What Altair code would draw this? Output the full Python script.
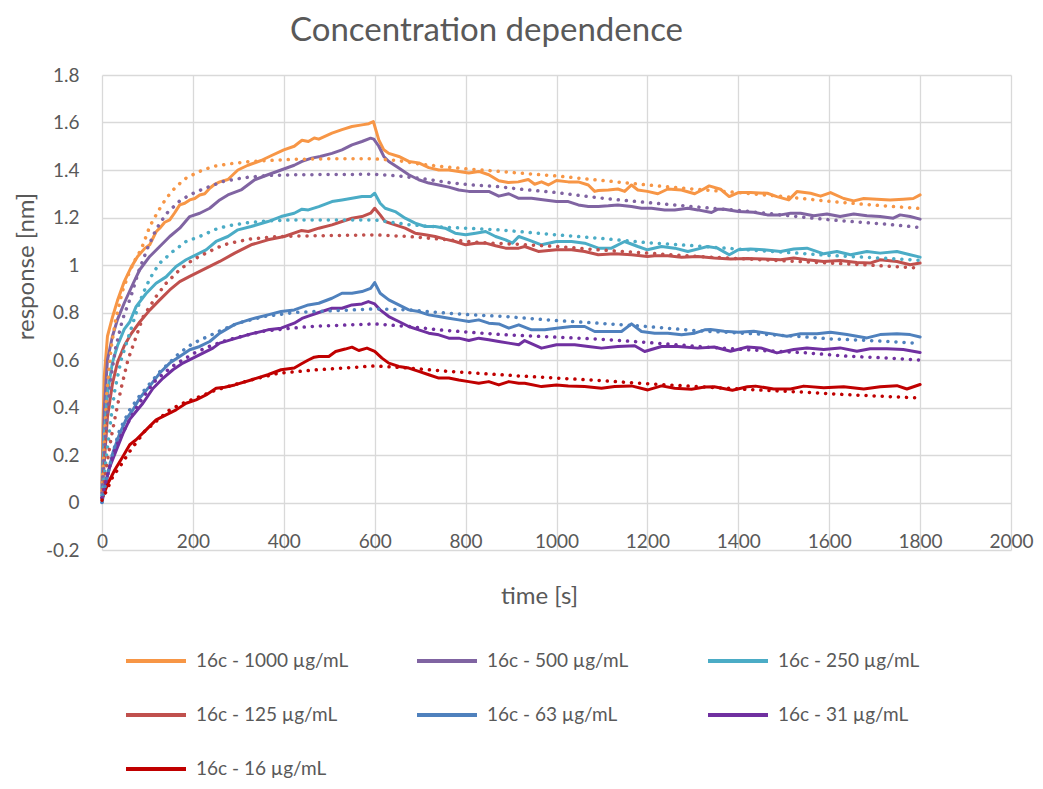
import altair as alt
import pandas as pd

# ---------------- data ----------------
series_names = ["16c - 1000 µg/mL", "16c - 500 µg/mL", "16c - 250 µg/mL",
                "16c - 125 µg/mL", "16c - 63 µg/mL", "16c - 31 µg/mL", "16c - 16 µg/mL"]
series_colors = ["#F79646", "#8064A2", "#4BACC6", "#C0504D", "#4F81BD", "#7030A0", "#C00000"]

x_ticks = [0, 200, 400, 600, 800, 1000, 1200, 1400, 1600, 1800, 2000]
y_ticks = [-0.2, 0.0, 0.2, 0.4, 0.6, 0.8, 1.0, 1.2, 1.4, 1.6, 1.8]

# measured responses (time [s], response [nm])
meas_1000 = [(0,0.08),(2,0.32),(5,0.53),(12,0.70),(23,0.78),(34,0.85),(49,0.93),(64,0.99),(78,1.035),(94,1.07),
    (105,1.085),(119,1.14),(127,1.155),(138,1.18),(149,1.19),(160,1.22),(171,1.253),(182,1.26),(193,1.274),(204,1.28),
    (215,1.295),(226,1.30),(237,1.323),(248,1.34),(259,1.35),(277,1.36),(299,1.40),(321,1.42),(350,1.44),(372,1.46),
    (400,1.485),(423,1.50),(440,1.525),(454,1.52),(467,1.535),(477,1.53),(506,1.555),(528,1.57),(550,1.583),(572,1.59),
    (587,1.595),(597,1.604),(609,1.527),(620,1.485),(631,1.47),(653,1.457),(675,1.436),(697,1.43),(719,1.41),(741,1.40),
    (763,1.40),(785,1.394),(807,1.387),(829,1.394),(851,1.38),(873,1.355),(894,1.347),(916,1.35),(938,1.36),(952,1.34),
    (967,1.35),(982,1.337),(1000,1.356),(1026,1.35),(1048,1.35),(1070,1.337),(1084,1.31),(1092,1.314),(1114,1.316),
    (1135,1.32),(1150,1.31),(1165,1.337),(1179,1.316),(1200,1.31),(1223,1.30),(1245,1.32),(1275,1.316),(1304,1.30),
    (1320,1.316),(1336,1.333),(1361,1.319),(1380,1.288),(1400,1.305),(1427,1.305),(1464,1.302),(1485,1.288),(1511,1.274),
    (1529,1.309),(1559,1.302),(1581,1.29),(1603,1.305),(1632,1.28),(1654,1.27),(1676,1.28),(1705,1.277),(1734,1.274),
    (1763,1.277),(1785,1.28),(1800,1.295)]
meas_500 = [(0,0.06),(3,0.25),(5,0.39),(12,0.60),(23,0.70),(34,0.77),(49,0.84),(68,0.92),(83,0.98),(105,1.036),
    (127,1.078),(149,1.12),(171,1.155),(193,1.204),(215,1.218),(237,1.239),(259,1.274),(277,1.295),(306,1.316),(336,1.359),
    (365,1.38),(394,1.40),(423,1.42),(440,1.436),(461,1.45),(480,1.457),(506,1.47),(528,1.485),(550,1.506),(572,1.52),
    (591,1.534),(598,1.53),(609,1.50),(620,1.457),(631,1.436),(653,1.408),(675,1.38),(697,1.359),(719,1.345),(741,1.337),
    (763,1.328),(785,1.316),(807,1.31),(829,1.31),(851,1.31),(873,1.29),(895,1.30),(917,1.281),(945,1.281),(974,1.274),
    (1000,1.267),(1026,1.267),(1048,1.253),(1070,1.246),(1092,1.246),(1114,1.249),(1135,1.253),(1165,1.246),(1187,1.239),
    (1209,1.239),(1238,1.232),(1260,1.232),(1289,1.239),(1311,1.232),(1341,1.221),(1355,1.235),(1369,1.235),(1400,1.225),
    (1434,1.222),(1464,1.211),(1493,1.211),(1515,1.218),(1537,1.218),(1566,1.207),(1595,1.215),(1624,1.204),(1654,1.215),
    (1683,1.207),(1712,1.204),(1741,1.197),(1756,1.211),(1778,1.204),(1800,1.193)]
meas_250 = [(0,0.05),(3,0.18),(5,0.28),(12,0.46),(23,0.59),(34,0.66),(49,0.73),(61,0.76),(75,0.825),(97,0.88),
    (119,0.923),(141,0.95),(163,0.994),(185,1.022),(207,1.043),(229,1.064),(251,1.099),(277,1.12),(299,1.148),(328,1.162),
    (365,1.183),(394,1.204),(423,1.218),(440,1.235),(454,1.232),(477,1.246),(506,1.267),(528,1.274),(550,1.281),(572,1.288),
    (591,1.288),(600,1.302),(612,1.26),(623,1.239),(645,1.225),(667,1.197),(689,1.176),(711,1.162),(733,1.162),(755,1.155),
    (777,1.134),(800,1.127),(822,1.134),(844,1.141),(866,1.12),(888,1.106),(903,1.092),(917,1.12),(938,1.106),(967,1.085),
    (1000,1.099),(1033,1.099),(1062,1.092),(1092,1.071),(1121,1.071),(1150,1.099),(1179,1.078),(1200,1.064),(1231,1.078),
    (1260,1.071),(1289,1.057),(1319,1.071),(1332,1.078),(1354,1.071),(1380,1.043),(1400,1.064),(1427,1.067),(1456,1.064),
    (1493,1.057),(1522,1.067),(1551,1.071),(1588,1.047),(1617,1.057),(1647,1.043),(1683,1.057),(1712,1.05),(1749,1.057),
    (1778,1.043),(1800,1.033)]
meas_125 = [(0,0.04),(3,0.12),(5,0.17),(12,0.36),(23,0.50),(34,0.59),(49,0.66),(64,0.71),(83,0.76),(105,0.81),
    (127,0.853),(149,0.895),(171,0.93),(193,0.952),(215,0.973),(237,0.994),(259,1.015),(292,1.05),(328,1.085),(365,1.106),
    (401,1.12),(438,1.145),(454,1.141),(477,1.155),(506,1.169),(528,1.183),(550,1.197),(572,1.204),(591,1.218),(600,1.239),
    (612,1.211),(623,1.183),(645,1.169),(667,1.155),(689,1.134),(711,1.127),(733,1.12),(755,1.109),(777,1.099),(800,1.085),
    (822,1.092),(844,1.092),(866,1.081),(888,1.071),(917,1.071),(930,1.078),(960,1.057),(1000,1.064),(1033,1.064),
    (1062,1.057),(1092,1.043),(1128,1.047),(1165,1.043),(1200,1.036),(1216,1.039),(1245,1.039),(1275,1.033),(1311,1.036),
    (1347,1.029),(1383,1.025),(1420,1.027),(1456,1.025),(1493,1.022),(1522,1.029),(1551,1.022),(1588,1.015),(1624,1.019),
    (1661,1.011),(1690,1.008),(1712,1.022),(1749,1.015),(1778,1.001),(1800,1.008)]
meas_63 = [(0,0.0),(5,0.05),(9.5,0.095),(24,0.21),(39,0.29),(53,0.35),(68,0.39),(83,0.44),(105,0.49),(127,0.545),
    (149,0.587),(171,0.615),(193,0.643),(215,0.657),(237,0.678),(259,0.713),(292,0.75),(328,0.772),(365,0.79),(394,0.804),
    (423,0.811),(454,0.832),(477,0.839),(506,0.86),(528,0.881),(550,0.881),(572,0.888),(591,0.902),(600,0.926),(612,0.881),
    (631,0.853),(653,0.832),(675,0.811),(697,0.804),(719,0.79),(741,0.783),(763,0.776),(785,0.769),(807,0.762),(829,0.769),
    (851,0.755),(873,0.752),(895,0.734),(917,0.748),(945,0.727),(974,0.727),(1000,0.734),(1033,0.741),(1062,0.741),
    (1084,0.72),(1114,0.72),(1143,0.72),(1165,0.752),(1187,0.72),(1216,0.713),(1245,0.713),(1275,0.706),(1304,0.713),
    (1326,0.727),(1339,0.728),(1369,0.721),(1400,0.717),(1434,0.721),(1471,0.711),(1507,0.70),(1537,0.711),(1573,0.711),
    (1603,0.717),(1639,0.707),(1683,0.693),(1712,0.707),(1749,0.711),(1778,0.707),(1800,0.697)]
meas_31 = [(0,0.03),(6,0.067),(17,0.15),(31.5,0.22),(46,0.29),(61,0.35),(75,0.383),(90,0.418),(112,0.48),(134,0.523),
    (156,0.559),(178,0.587),(200,0.608),(222,0.629),(244,0.65),(259,0.671),(292,0.69),(328,0.71),(365,0.727),(394,0.734),
    (423,0.755),(440,0.775),(454,0.785),(477,0.80),(506,0.818),(528,0.818),(550,0.832),(572,0.836),(586,0.846),(600,0.836),
    (612,0.811),(631,0.783),(653,0.762),(675,0.741),(697,0.727),(719,0.713),(741,0.706),(763,0.692),(785,0.692),(807,0.682),
    (829,0.692),(851,0.685),(873,0.678),(895,0.671),(917,0.664),(930,0.682),(967,0.65),(1000,0.664),(1040,0.664),
    (1070,0.657),(1099,0.65),(1135,0.657),(1172,0.66),(1194,0.636),(1231,0.657),(1267,0.657),(1311,0.65),(1347,0.655),
    (1383,0.637),(1420,0.655),(1449,0.651),(1485,0.63),(1522,0.644),(1551,0.651),(1588,0.644),(1624,0.651),(1661,0.637),
    (1690,0.647),(1727,0.647),(1763,0.644),(1800,0.632)]
meas_16 = [(0,0.02),(2,0.025),(13,0.08),(28,0.137),(46,0.194),(61,0.243),(75,0.264),(97,0.306),(119,0.348),(141,0.369),
    (163,0.39),(185,0.418),(207,0.432),(229,0.453),(251,0.481),(270,0.485),(292,0.495),(328,0.516),(365,0.538),(394,0.559),
    (423,0.566),(440,0.585),(454,0.60),(467,0.612),(477,0.615),(499,0.615),(514,0.636),(535,0.646),(550,0.654),(565,0.64),
    (583,0.65),(600,0.636),(616,0.608),(631,0.587),(653,0.573),(675,0.566),(697,0.552),(719,0.538),(741,0.524),(763,0.524),
    (785,0.516),(807,0.509),(829,0.502),(851,0.509),(873,0.495),(895,0.509),(917,0.502),(930,0.502),(967,0.488),(1000,0.495),
    (1026,0.491),(1062,0.488),(1099,0.481),(1128,0.488),(1165,0.491),(1201,0.474),(1231,0.491),(1260,0.481),(1297,0.477),
    (1326,0.486),(1347,0.487),(1387,0.473),(1420,0.487),(1438,0.49),(1478,0.478),(1515,0.478),(1544,0.49),(1588,0.483),
    (1632,0.487),(1676,0.478),(1712,0.487),(1749,0.492),(1771,0.478),(1800,0.497)]

# fitted curves (dotted)
fit_1000 = [(0,0.05),(10,0.45),(20,0.65),(30,0.77),(45,0.89),(60,0.97),(75,1.03),(86,1.064),(105,1.162),(123,1.225),
    (141,1.28),(163,1.33),(185,1.366),(215,1.394),(244,1.415),(277,1.425),(321,1.435),(365,1.44),(423,1.445),(500,1.447),
    (600,1.447),(650,1.44),(700,1.425),(750,1.414),(800,1.405),(850,1.398),(900,1.39),(1000,1.375),(1100,1.356),
    (1200,1.337),(1300,1.32),(1400,1.305),(1500,1.288),(1600,1.268),(1700,1.252),(1800,1.238)]
fit_500 = [(0,0.04),(10,0.35),(20,0.53),(30,0.65),(45,0.77),(64,0.87),(80,0.97),(100,1.07),(119,1.15),(141,1.215),
    (171,1.27),(193,1.295),(222,1.32),(244,1.335),(262,1.35),(314,1.368),(365,1.377),(423,1.38),(600,1.382),(653,1.375),
    (719,1.36),(763,1.347),(815,1.337),(873,1.33),(917,1.32),(1000,1.305),(1062,1.29),(1121,1.277),(1200,1.263),
    (1282,1.249),(1341,1.239),(1400,1.23),(1460,1.218),(1529,1.204),(1603,1.19),(1676,1.179),(1720,1.173),(1800,1.158)]
fit_250 = [(0,0.03),(10,0.2),(20,0.36),(28,0.47),(42,0.6),(57,0.69),(68,0.755),(82,0.84),(97,0.91),(112,0.965),
    (127,1.008),(156,1.057),(185,1.099),(215,1.12),(251,1.151),(277,1.165),(321,1.178),(365,1.186),(423,1.19),(600,1.19),
    (675,1.17),(726,1.162),(800,1.155),(873,1.148),(917,1.141),(1000,1.127),(1092,1.113),(1200,1.094),(1311,1.08),
    (1420,1.064),(1529,1.05),(1603,1.04),(1676,1.033),(1800,1.02)]
fit_125 = [(0,0.02),(10,0.15),(20,0.27),(30,0.37),(42,0.48),(57,0.60),(70,0.67),(90,0.78),(119,0.867),(141,0.923),
    (171,0.98),(200,1.022),(229,1.05),(251,1.071),(277,1.09),(328,1.11),(387,1.12),(467,1.123),(600,1.127),(675,1.12),
    (763,1.106),(836,1.094),(917,1.087),(1000,1.078),(1092,1.064),(1200,1.05),(1311,1.036),(1420,1.025),(1529,1.015),
    (1603,1.008),(1676,1.001),(1720,0.996),(1800,0.987)]
fit_63 = [(0,0.0),(10,0.1),(24,0.21),(39,0.306),(61,0.39),(83,0.45),(105,0.50),(127,0.55),(149,0.59),(171,0.63),
    (200,0.67),(251,0.715),(299,0.755),(357,0.783),(423,0.80),(467,0.804),(600,0.815),(675,0.811),(741,0.80),(815,0.79),
    (888,0.783),(1000,0.766),(1092,0.755),(1200,0.741),(1311,0.723),(1420,0.712),(1529,0.70),(1603,0.689),(1676,0.683),
    (1720,0.679),(1800,0.67)]
fit_31 = [(0,0.02),(10,0.1),(24,0.2),(39,0.27),(61,0.35),(79,0.41),(97,0.46),(116,0.51),(140,0.55),(160,0.58),
    (204,0.63),(240,0.66),(277,0.685),(350,0.72),(423,0.735),(467,0.742),(600,0.752),(675,0.741),(741,0.727),(815,0.716),
    (888,0.706),(1000,0.696),(1092,0.688),(1200,0.674),(1311,0.657),(1420,0.643),(1551,0.63),(1639,0.616),(1720,0.609),
    (1800,0.60)]
fit_16 = [(0,0.01),(10,0.05),(24,0.11),(39,0.15),(61,0.215),(94,0.30),(130,0.36),(149,0.39),(178,0.418),(215,0.446),
    (251,0.474),(277,0.488),(328,0.516),(387,0.544),(467,0.558),(600,0.575),(675,0.566),(763,0.552),(844,0.542),
    (917,0.533),(1000,0.524),(1092,0.514),(1200,0.50),(1311,0.488),(1420,0.476),(1551,0.464),(1639,0.454),(1720,0.447),
    (1800,0.44)]

measured = [meas_1000, meas_500, meas_250, meas_125, meas_63, meas_31, meas_16]
fitted = [fit_1000, fit_500, fit_250, fit_125, fit_63, fit_31, fit_16]

def to_frame(groups):
    rows = []
    for name, pts in zip(series_names, groups):
        for t, y in pts:
            rows.append({"series": name, "t": t, "y": y})
    return pd.DataFrame(rows)

df_meas = to_frame(measured)
df_fit = to_frame(fitted)

FONT = "Lato"
TXT = "#595959"
GRID = "#d9d9d9"

color_scale = alt.Scale(domain=series_names, range=series_colors)

x_enc = alt.X("t:Q", scale=alt.Scale(domain=[0, 2000], nice=False),
              axis=alt.Axis(values=x_ticks, format="d", grid=True, gridColor=GRID, gridWidth=1.3,
                            domain=False, ticks=False, labelFlush=False, labelOverlap=False,
                            labelPadding=-9, labelBaseline="middle",
                            labelFont=FONT, labelFontSize=19, labelColor=TXT,
                            title="time [s]", titleFont=FONT, titleFontSize=24,
                            titleFontWeight="normal", titleColor=TXT,
                            titleX=437, titleY=46, titleBaseline="middle", titleAlign="center"))
y_enc = alt.Y("y:Q", scale=alt.Scale(domain=[-0.2, 1.8], nice=False),
              axis=alt.Axis(values=y_ticks, grid=True, gridColor=GRID, gridWidth=1.3,
                            domain=False, ticks=False, labelPadding=23,
                            labelExpr="replace(format(datum.value, '.1~f'), '\u2212', '-')",
                            labelFont=FONT, labelFontSize=19, labelColor=TXT,
                            title="response [nm]", titleFont=FONT, titleFontSize=24,
                            titleFontWeight="normal", titleColor=TXT, titleAngle=-90,
                            titleX=-76, titleY=191, titleBaseline="middle", titleAlign="center"))

solid = alt.Chart(df_meas).mark_line(strokeWidth=3, strokeJoin="round", strokeCap="round").encode(
    x=x_enc, y=y_enc,
    color=alt.Color("series:N", scale=color_scale, sort=series_names,
                    legend=alt.Legend(orient="none", legendX=22, legendY=554, direction="horizontal",
                                      columns=3, title=None, symbolType="stroke", symbolSize=3600,
                                      symbolStrokeWidth=4, labelFont=FONT, labelFontSize=19,
                                      labelColor=TXT, labelOffset=8, labelLimit=400,
                                      gridAlign="all", columnPadding=60, rowPadding=12,
                                      padding=0)),
)

dotted = alt.Chart(df_fit).mark_line(strokeWidth=3.5, strokeDash=[0.1, 8], strokeCap="round").encode(
    x="t:Q", y="y:Q",
    color=alt.Color("series:N", scale=color_scale, legend=None),
)

chart = alt.layer(solid, dotted).properties(
    width=909, height=475,
    padding={"left": 94, "top": 67, "right": 24, "bottom": 231},
    autosize=alt.AutoSizeParams(type="none"),
    title=alt.TitleParams("Concentration dependence", font=FONT, fontSize=33, fontWeight="normal",
                          color=TXT, anchor="middle", dx=-70, offset=18),
).configure_view(stroke=None)

chart.save("out.html", embed_options={"renderer": "svg", "actions": False})
